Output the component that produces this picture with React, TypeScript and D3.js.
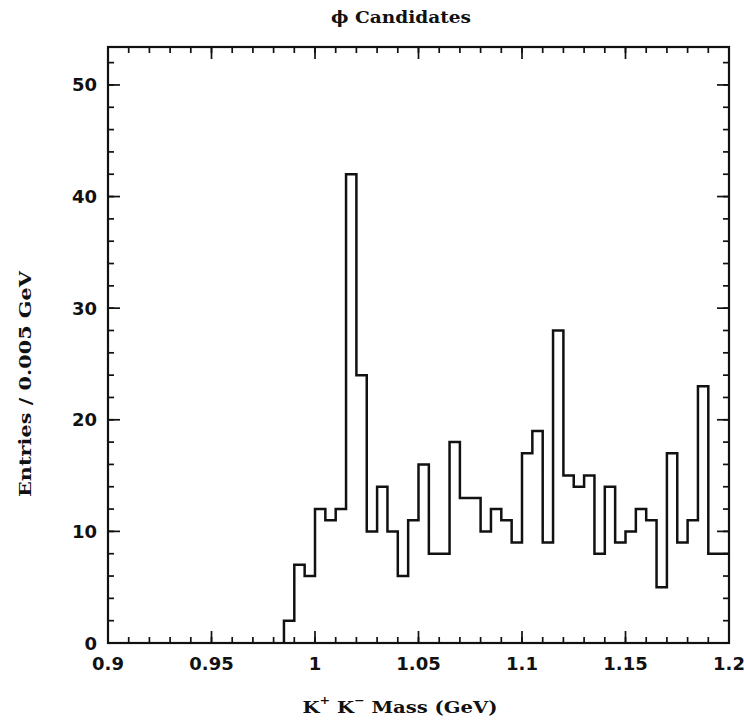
import React from "react";
import * as d3 from "d3";

const W = 744;
const H = 726;

const BIN_START = 0.985;
const BIN_WIDTH = 0.005;
const counts = [
  2, 7, 6, 12, 11, 12, 42, 24, 10, 14, 10, 6, 11, 16, 8, 8, 18, 13, 13, 10, 12,
  11, 9, 17, 19, 9, 28, 15, 14, 15, 8, 14, 9, 10, 12, 11, 5, 17, 9, 11, 23, 8, 8,
];

const xMajorTicks = [0.9, 0.95, 1.0, 1.05, 1.1, 1.15, 1.2];
const xTickLabels = ["0.9", "0.95", "1", "1.05", "1.1", "1.15", "1.2"];
const yMajorTicks = [0, 10, 20, 30, 40, 50];
const yTickLabels = ["0", "10", "20", "30", "40", "50"];

const title = "ϕ Candidates";
const yTitle = "Entries / 0.005 GeV";

const X_DOMAIN = [0.9, 1.2];
const Y_DOMAIN = [0, 53.4];

export default function App() {
  const left = 108,
    right = 729,
    top = 47,
    bottom = 643;
  const x = d3.scaleLinear().domain(X_DOMAIN).range([left, right]);
  const y = d3.scaleLinear().domain(Y_DOMAIN).range([bottom, top]);

  // histogram step path
  const pts: [number, number][] = [[BIN_START, 0]];
  counts.forEach((c, i) => {
    const x0 = BIN_START + i * BIN_WIDTH;
    pts.push([x0, c]);
    pts.push([x0 + BIN_WIDTH, c]);
  });
  const line = d3
    .line<[number, number]>()
    .x((d) => x(d[0]))
    .y((d) => y(d[1]));
  const histPath = line(pts) || "";

  const xMinor = d3.range(0, 31).map((i) => 0.9 + i * 0.01);
  const yMinor = d3.range(0, 27).map((i) => i * 2);

  const MAJ = 12;
  const MIN = 6;
  const tickStyle = { stroke: "#111", strokeWidth: 1.7 };
  const tickFont = {
    fontFamily: "'DejaVu Sans', sans-serif",
    fontWeight: 700,
    fontSize: 18,
    fill: "#111",
  } as const;
  const serifFont = {
    fontFamily: "'DejaVu Serif', serif",
    fontWeight: 700,
    fill: "#111",
  } as const;

  return (
    <svg
      width={W}
      height={H}
      style={{ position: "absolute", left: 0, top: 0, background: "#fff" }}
    >
      <rect x={0} y={0} width={W} height={H} fill="#fff" />
      {xMinor.map((v, i) => (
        <g key={"xm" + i}>
          <line x1={x(v)} x2={x(v)} y1={bottom} y2={bottom - MIN} {...tickStyle} />
          <line x1={x(v)} x2={x(v)} y1={top} y2={top + MIN} {...tickStyle} />
        </g>
      ))}
      {xMajorTicks.map((v, i) => (
        <g key={"xM" + i}>
          <line x1={x(v)} x2={x(v)} y1={bottom} y2={bottom - MAJ} {...tickStyle} />
          <line x1={x(v)} x2={x(v)} y1={top} y2={top + MAJ} {...tickStyle} />
          <text
            x={x(v)}
            y={bottom + 20}
            textAnchor="middle"
            dominantBaseline="central"
            {...tickFont}
          >
            {xTickLabels[i]}
          </text>
        </g>
      ))}
      {yMinor.map((v, i) => (
        <g key={"ym" + i}>
          <line x1={left} x2={left + MIN} y1={y(v)} y2={y(v)} {...tickStyle} />
          <line x1={right} x2={right - MIN} y1={y(v)} y2={y(v)} {...tickStyle} />
        </g>
      ))}
      {yMajorTicks.map((v, i) => (
        <g key={"yM" + i}>
          <line x1={left} x2={left + MAJ} y1={y(v)} y2={y(v)} {...tickStyle} />
          <line x1={right} x2={right - MAJ} y1={y(v)} y2={y(v)} {...tickStyle} />
          <text
            x={left - 11}
            y={y(v)}
            textAnchor="end"
            dominantBaseline="central"
            {...tickFont}
          >
            {yTickLabels[i]}
          </text>
        </g>
      ))}
      <rect
        x={left}
        y={top}
        width={right - left}
        height={bottom - top}
        fill="none"
        stroke="#111"
        strokeWidth={2.2}
      />
      <path d={histPath} fill="none" stroke="#111" strokeWidth={2.5} strokeLinejoin="miter" />

      <text
        x={401}
        y={17}
        textAnchor="middle"
        dominantBaseline="central"
        fontSize={16}
        textLength={140}
        lengthAdjust="spacingAndGlyphs"
        {...serifFont}
      >
        {title}
      </text>

      <text
        x={400}
        y={707}
        textAnchor="middle"
        dominantBaseline="central"
        fontSize={17}
        textLength={195}
        lengthAdjust="spacingAndGlyphs"
        {...serifFont}
      >
        K<tspan fontSize={11} dy={-7}>+</tspan>
        <tspan dy={7}> K</tspan>
        <tspan fontSize={11} dy={-7}>−</tspan>
        <tspan dy={7}> Mass (GeV)</tspan>
      </text>

      <text
        transform={`translate(25, 384) rotate(-90)`}
        textAnchor="middle"
        dominantBaseline="central"
        fontSize={17}
        textLength={226}
        lengthAdjust="spacingAndGlyphs"
        {...serifFont}
      >
        {yTitle}
      </text>
    </svg>
  );
}
